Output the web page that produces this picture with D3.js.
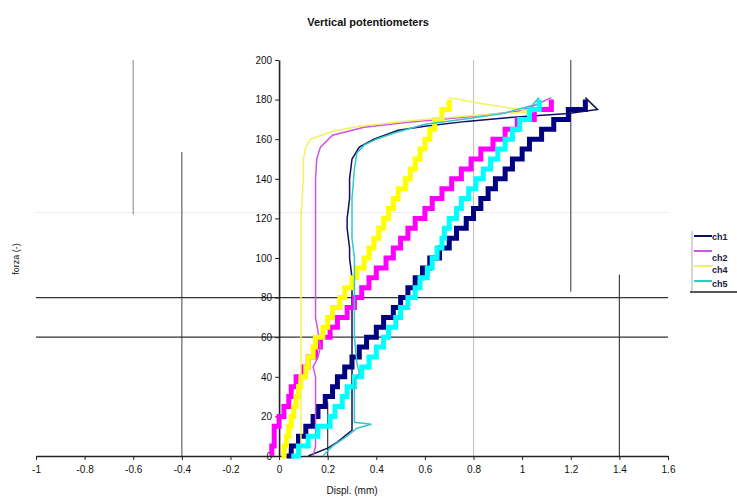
<!DOCTYPE html>
<html>
<head>
<meta charset="utf-8">
<script src="https://cdn.jsdelivr.net/npm/d3@7"></script>
<style>
  html, body { margin: 0; padding: 0; background: #fff; }
  svg { display: block; font-family: "Liberation Sans", Arial, sans-serif; }
</style>
</head>
<body>
<svg id="chart" width="737" height="498"></svg>
<script>
// ---------------- DATA ----------------
const seriesNames = ["ch1", "ch2", "ch4", "ch5"];
const xTicks = [-1, -0.8, -0.6, -0.4, -0.2, 0, 0.2, 0.4, 0.6, 0.8, 1, 1.2, 1.4, 1.6];
const yTicks = [0, 20, 40, 60, 80, 100, 120, 140, 160, 180, 200];

// force levels of the loading branch (forza)
const loadForce = [0, 5, 10, 15, 20, 25, 30, 35, 40, 45, 50, 55, 60, 65, 70, 75, 80, 85, 90,
                   95, 100, 105, 110, 115, 120, 125, 130, 135, 140, 145, 150, 155, 160, 165, 170, 175, 180];
// displacement (mm) of each channel on the loading branch
const ch1Load = [0.03, 0.05, 0.08, 0.11, 0.14, 0.16, 0.19, 0.22, 0.24, 0.27, 0.30, 0.33, 0.36, 0.40, 0.43, 0.47, 0.50, 0.53, 0.56,
                 0.59, 0.62, 0.66, 0.70, 0.73, 0.77, 0.80, 0.83, 0.86, 0.89, 0.93, 0.96, 1.00, 1.03, 1.08, 1.13, 1.19, 1.26];
const ch2Load = [-0.03, -0.03, -0.02, -0.02, 0.00, 0.02, 0.04, 0.05, 0.07, 0.10, 0.12, 0.15, 0.17, 0.21, 0.24, 0.28, 0.31, 0.34, 0.37,
                 0.40, 0.44, 0.47, 0.50, 0.53, 0.56, 0.60, 0.63, 0.67, 0.71, 0.75, 0.79, 0.83, 0.88, 0.93, 0.98, 1.05, 1.12];
const ch4Load = [0.01, 0.02, 0.03, 0.04, 0.05, 0.06, 0.07, 0.08, 0.09, 0.11, 0.12, 0.14, 0.15, 0.18, 0.20, 0.22, 0.25, 0.27, 0.30,
                 0.32, 0.35, 0.37, 0.39, 0.41, 0.43, 0.45, 0.47, 0.49, 0.52, 0.54, 0.56, 0.58, 0.60, 0.62, 0.64, 0.67, 0.70];
const ch5Load = [0.05, 0.08, 0.12, 0.16, 0.21, 0.23, 0.26, 0.28, 0.31, 0.34, 0.37, 0.40, 0.43, 0.45, 0.48, 0.50, 0.53, 0.56, 0.58,
                 0.61, 0.63, 0.65, 0.67, 0.68, 0.70, 0.73, 0.75, 0.78, 0.81, 0.84, 0.87, 0.90, 0.93, 0.96, 0.99, 1.03, 1.07];

// unloading branch: [displacement (mm), forza]
const ch1Unload = [[1.26, 181], [1.31, 175], [1.19, 173], [0.95, 171], [0.77, 169], [0.60, 166.5], [0.49, 164.5],
                   [0.39, 160], [0.33, 156], [0.30, 150], [0.29, 140], [0.29, 130], [0.28, 120], [0.28, 115],
                   [0.29, 105], [0.29, 100], [0.30, 90], [0.30, 60], [0.30, 40], [0.30, 20], [0.30, 13],
                   [0.27, 10], [0.24, 7], [0.20, 4], [0.15, 1.5], [0.12, 0]];
const ch2Unload = [[1.12, 181], [1.05, 177], [0.98, 174], [0.75, 171], [0.53, 168.5], [0.35, 166], [0.22, 162],
                   [0.17, 156], [0.155, 150], [0.15, 140], [0.15, 100], [0.15, 70], [0.16, 63], [0.17, 55],
                   [0.16, 50], [0.14, 45], [0.15, 40], [0.15, 20], [0.15, 5], [0.14, 0]];
const ch4Unload = [[0.70, 181], [0.83, 178], [0.99, 175], [1.05, 174], [0.80, 172], [0.55, 169.5], [0.33, 166.5],
                   [0.22, 164], [0.13, 160], [0.11, 156], [0.10, 150], [0.10, 140], [0.09, 120], [0.09, 100],
                   [0.09, 60], [0.09, 20], [0.09, 0]];
const ch5Unload = [[1.07, 181], [1.04, 177], [0.92, 173], [0.75, 170], [0.60, 167.5], [0.47, 163], [0.40, 160],
                   [0.35, 157], [0.32, 153], [0.31, 145], [0.30, 130], [0.30, 110], [0.31, 100], [0.31, 90],
                   [0.31, 60], [0.32, 47], [0.33, 42], [0.31, 38], [0.31, 20], [0.31, 17], [0.38, 16],
                   [0.32, 14], [0.28, 10], [0.22, 5], [0.18, 0]];

// stray reference lines visible on the sheet (data units)
const hRefLines = [{y: 80, x1: -1, x2: 1.6}, {y: 60, x1: -1, x2: 1.6}];
const hFaintLines = [{y: 123, x1: -1, x2: 1.6}];
const vRefLines = [
  {x: -0.6, y1: 122, y2: 200}, {x: -0.4, y1: 0, y2: 153.5}, {x: 0.8, y1: 0, y2: 200},
  {x: 1.2, y1: 83, y2: 200}, {x: 1.4, y1: 0, y2: 91.5}, {x: 0.2, y1: 0, y2: 27}
];

// ---------------- STYLE ----------------
const colorOf = {ch1: "#000080", ch2: "#ff00ff", ch4: "#ffff00", ch5: "#00ffff"};
const thinColorOf = {ch1: "#101060", ch2: "#cc55dd", ch4: "#f4f060", ch5: "#33c8c8"};
const vRefColor = ["#999", "#666", "#c4c4c4", "#555", "#444", "#333"];

const loadData = {ch1: ch1Load, ch2: ch2Load, ch4: ch4Load, ch5: ch5Load};
const unloadData = {ch1: ch1Unload, ch2: ch2Unload, ch4: ch4Unload, ch5: ch5Unload};

// ---------------- CHART ----------------
const svg = d3.select("#chart");
const x = d3.scaleLinear().domain([-1, 1.6]).range([36, 668]);
const y = d3.scaleLinear().domain([0, 200]).range([456, 60]);

// title
svg.append("text").attr("x", 368).attr("y", 26).attr("text-anchor", "middle")
  .attr("font-size", 11).attr("font-weight", "bold").attr("fill", "#111")
  .text("Vertical potentiometers");

// faint line
svg.append("g").selectAll("line").data(hFaintLines).join("line")
  .attr("x1", d => x(d.x1)).attr("x2", d => x(d.x2))
  .attr("y1", d => y(d.y)).attr("y2", d => y(d.y))
  .attr("stroke", "#ececec").attr("stroke-width", 1);

// vertical stray lines
svg.append("g").selectAll("line").data(vRefLines).join("line")
  .attr("x1", d => x(d.x)).attr("x2", d => x(d.x))
  .attr("y1", d => y(d.y1)).attr("y2", d => y(d.y2))
  .attr("stroke", (d, i) => vRefColor[i]).attr("stroke-width", 1.2);

// horizontal stray lines
svg.append("g").selectAll("line").data(hRefLines).join("line")
  .attr("x1", d => x(d.x1)).attr("x2", d => x(d.x2))
  .attr("y1", d => y(d.y)).attr("y2", d => y(d.y))
  .attr("stroke", "#333").attr("stroke-width", 1.3);

// axes
const fmt = d => String(+d.toFixed(1)).replace("\u2212", "-");
const xAxis = svg.append("g").attr("transform", `translate(0,${y(0)})`)
  .call(d3.axisBottom(x).tickValues(xTicks).tickFormat(fmt).tickSize(4).tickSizeOuter(0));
const yAxis = svg.append("g").attr("transform", `translate(${x(0)},0)`)
  .call(d3.axisLeft(y).tickValues(yTicks).tickFormat(fmt).tickSize(4).tickSizeOuter(0));
[xAxis, yAxis].forEach(g => {
  g.select(".domain").attr("stroke", "#222").attr("stroke-width", 1.6);
  g.selectAll(".tick line").attr("stroke", "#222").attr("stroke-width", 1);
  g.selectAll(".tick text").attr("font-size", 10).attr("fill", "#111")
    .attr("font-family", "Liberation Sans, Arial, sans-serif");
});
xAxis.selectAll(".tick text").attr("dy", "0.95em");
yAxis.selectAll(".tick text").attr("x", -7);

// axis titles
svg.append("text").attr("x", 352).attr("y", 494).attr("text-anchor", "middle")
  .attr("font-size", 10).attr("fill", "#111").text("Displ. (mm)");
svg.append("text").attr("transform", "translate(19,259) rotate(-90)").attr("text-anchor", "middle")
  .attr("font-size", 9).attr("fill", "#111").text("forza (-)");

// series
const stepLine = d3.line().x(d => x(d[0])).y(d => y(d[1])).curve(d3.curveStepAfter);
const thinLine = d3.line().x(d => x(d[0])).y(d => y(d[1]));
const plot = svg.append("g");
seriesNames.forEach(name => {
  const pts = loadForce.map((f, i) => [loadData[name][i], f]);
  plot.append("path").datum(pts).attr("d", stepLine)
    .attr("fill", "none").attr("stroke", colorOf[name]).attr("stroke-width", 5)
    .attr("stroke-linejoin", "miter");
  plot.append("path").datum(unloadData[name]).attr("d", thinLine)
    .attr("fill", "none").attr("stroke", thinColorOf[name]).attr("stroke-width", 1.5);
});

// legend
const leg = svg.append("g");
leg.append("line").attr("x1", 692).attr("x2", 692).attr("y1", 231).attr("y2", 292)
  .attr("stroke", "#aaa").attr("stroke-width", 1);
leg.append("line").attr("x1", 690).attr("x2", 737).attr("y1", 292).attr("y2", 292)
  .attr("stroke", "#555").attr("stroke-width", 2);
const legLineY = [236, 251, 266, 281];
const legTextY = [237, 258, 270, 284];
seriesNames.forEach((name, i) => {
  leg.append("line").attr("x1", 694).attr("x2", 712).attr("y1", legLineY[i]).attr("y2", legLineY[i])
    .attr("stroke", thinColorOf[name]).attr("stroke-width", 2);
  leg.append("text").attr("x", 712).attr("y", legTextY[i]).attr("dy", "0.35em")
    .attr("font-size", 9).attr("font-weight", "bold").attr("fill", "#1a1a40").text(name);
});
</script>
</body>
</html>
